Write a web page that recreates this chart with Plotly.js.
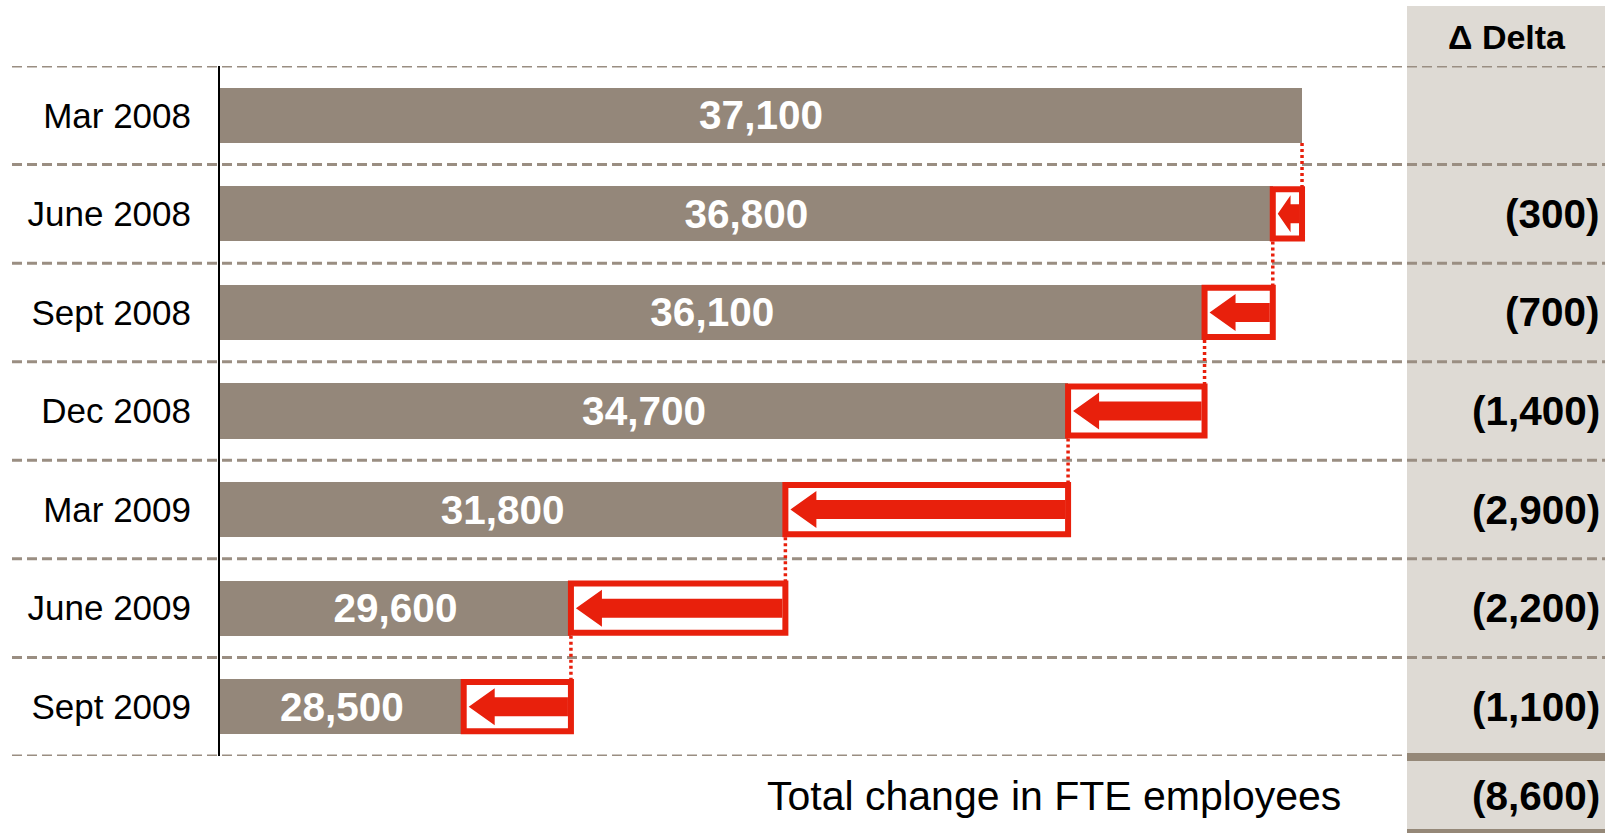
<!DOCTYPE html>
<html>
<head>
<meta charset="utf-8">
<script src="https://cdn.plot.ly/plotly-3.0.1.min.js"></script>
<style>
  html, body { margin: 0; padding: 0; background: #ffffff; }
  #chart { width: 1605px; height: 833px; }
</style>
</head>
<body>
<div id="chart"></div>
<script>
// ---- data ----
const categories = ['Mar 2008', 'June 2008', 'Sept 2008', 'Dec 2008', 'Mar 2009', 'June 2009', 'Sept 2009'];
const fteValues = [37100, 36800, 36100, 34700, 31800, 29600, 28500];
const deltaHeader = 'Δ Delta';
const totalLabel = 'Total change in FTE employees';

// ---- layout constants ----
const W = 1605, H = 833;
const ML = 220, MT = 66, PH = 690, PW = W - ML;
const MB = H - MT - PH;
const X0 = 26000;              // axis starts here
const PX_PER_UNIT = 0.09748;
const XMAX = X0 + PW / PX_PER_UNIT;
const vpp = 1 / PX_PER_UNIT;   // value units per pixel
const rowPx = PH / categories.length;
const upp = 1 / rowPx;         // category units per pixel
const BAR_W = 0.56;

const FONT = 'Liberation Sans, Arial, Helvetica, sans-serif';
const BAR_COLOR = '#94877a';
const DASH_COLOR = '#9a8e82';
const RED = '#e8200c';
const COL_BG = '#dedad4';

const fmt = v => Math.abs(v).toLocaleString('en-US');
const paperX = px => (px - ML) / PW;
const paperY = px => (MT + PH - px) / PH;

const idx = categories.map((c, i) => i);

const barTrace = {
  type: 'bar',
  orientation: 'h',
  y: idx,
  x: fteValues.map(v => v - X0),
  base: X0,
  width: BAR_W,
  marker: { color: BAR_COLOR, line: { width: 0 } },
  text: fteValues.map(v => '<b>' + fmt(v) + '</b>'),
  textposition: 'inside',
  insidetextanchor: 'middle',
  constraintext: 'none',
  textfont: { color: '#ffffff', size: 40.5, family: FONT },
  hoverinfo: 'none'
};

const shapes = [];
// delta column background
shapes.push({ type: 'rect', xref: 'paper', yref: 'paper', layer: 'below',
  x0: paperX(1407), x1: 1.01, y0: paperY(840), y1: paperY(6),
  fillcolor: COL_BG, line: { width: 0 } });

// dashed row separators
for (let i = 0; i <= categories.length; i++) {
  const last = i === categories.length;
  shapes.push({ type: 'line', xref: 'paper', yref: 'y', layer: 'below',
    x0: paperX(12), x1: last ? paperX(1407) : 1,
    y0: i - 0.5, y1: i - 0.5,
    line: { color: DASH_COLOR, width: 3, dash: '10px,5px' } });
}
// thick band in delta column + bottom line
shapes.push({ type: 'rect', xref: 'paper', yref: 'paper', layer: 'below',
  x0: paperX(1407), x1: 1.01, y0: paperY(761), y1: paperY(753),
  fillcolor: '#958878', line: { width: 0 } });
shapes.push({ type: 'rect', xref: 'paper', yref: 'paper', layer: 'below',
  x0: paperX(1407), x1: 1.01, y0: paperY(840), y1: paperY(829),
  fillcolor: '#958878', line: { width: 0 } });

// waterfall boxes with arrows + dotted connectors
const annotations = [];
for (let i = 1; i < fteValues.length; i++) {
  const prev = fteValues[i - 1], cur = fteValues[i];
  const half = BAR_W / 2;
  // dotted connector
  shapes.push({ type: 'line', xref: 'x', yref: 'y', layer: 'above',
    x0: prev, x1: prev, y0: (i - 1) + half, y1: i - half + 3 * upp,
    line: { color: RED, width: 3.5, dash: '3px,3px' } });
  // box
  shapes.push({ type: 'rect', xref: 'x', yref: 'y', layer: 'above',
    x0: cur, x1: prev, y0: i - half + 3 * upp, y1: i + half - 3 * upp,
    fillcolor: '#ffffff', line: { color: RED, width: 6 } });
  // arrow
  const innerL = cur + 3 * vpp, innerR = prev - 3 * vpp;
  const innerWpx = (innerR - innerL) / vpp;
  const tip = innerL + 2 * vpp;
  const headLen = Math.min(26, 0.55 * innerWpx) * vpp;
  const base = tip + headLen;
  const hh = 18.5 * upp, sh = 9.5 * upp;
  const path = `M ${tip},${i} L ${base},${i - hh} L ${base},${i - sh} L ${innerR},${i - sh} ` +
               `L ${innerR},${i + sh} L ${base},${i + sh} L ${base},${i + hh} Z`;
  shapes.push({ type: 'path', xref: 'x', yref: 'y', layer: 'above', path: path,
    fillcolor: RED, line: { width: 0 } });
  // delta value
  annotations.push({ xref: 'paper', yref: 'y', x: 1, y: i, xanchor: 'right', yanchor: 'middle',
    xshift: -3, showarrow: false, text: '<b>(' + fmt(cur - prev) + ')</b>',
    font: { family: FONT, size: 40.5, color: '#000000' } });
}

// header
annotations.push({ xref: 'paper', yref: 'paper', x: paperX(1507), y: paperY(37),
  xanchor: 'center', yanchor: 'middle', showarrow: false, text: '<b>' + deltaHeader + '</b>',
  font: { family: FONT, size: 34, color: '#000000' } });
// total row
const total = fteValues[fteValues.length - 1] - fteValues[0];
annotations.push({ xref: 'paper', yref: 'paper', x: 1, y: paperY(796), xanchor: 'right', yanchor: 'middle',
  xshift: -3, showarrow: false, text: '<b>(' + fmt(total) + ')</b>',
  font: { family: FONT, size: 40.5, color: '#000000' } });
annotations.push({ xref: 'paper', yref: 'paper', x: paperX(1343), y: paperY(796), xanchor: 'right', yanchor: 'middle',
  showarrow: false, text: totalLabel,
  font: { family: FONT, size: 41, color: '#000000' } });

const layout = {
  width: W, height: H,
  margin: { l: ML, r: 0, t: MT, b: MB, pad: 0 },
  paper_bgcolor: '#ffffff',
  plot_bgcolor: 'rgba(0,0,0,0)',
  showlegend: false,
  bargap: 0,
  font: { family: FONT, color: '#000000' },
  xaxis: { range: [X0, XMAX], visible: false, showgrid: false, zeroline: false, fixedrange: true },
  yaxis: {
    range: [categories.length - 0.5, -0.5],
    tickmode: 'array', tickvals: idx, ticktext: categories,
    showgrid: false, zeroline: false,
    showline: true, linecolor: '#000000', linewidth: 2,
    ticks: '', ticklabelstandoff: 20,
    tickfont: { family: FONT, size: 35, color: '#000000' },
    fixedrange: true
  },
  shapes: shapes,
  annotations: annotations
};

Plotly.newPlot('chart', [barTrace], layout, { displayModeBar: false, staticPlot: true });
</script>
</body>
</html>
